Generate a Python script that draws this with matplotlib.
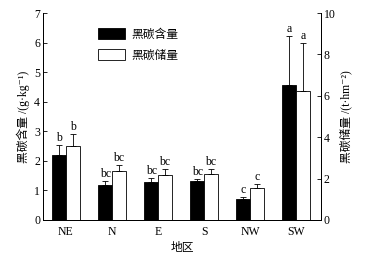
import matplotlib
matplotlib.use('Agg')
import matplotlib.pyplot as plt
import numpy as np

plt.rcParams['font.family'] = ['Liberation Serif', 'Noto Sans CJK SC', 'DejaVu Serif']

regions = ['NE', 'N', 'E', 'S', 'NW', 'SW']
content = [2.21, 1.17, 1.29, 1.31, 0.71, 4.56]
content_err = [0.34, 0.14, 0.13, 0.09, 0.08, 1.66]
content_lbl = ['b', 'bc', 'bc', 'bc', 'c', 'a']
storage = [3.56, 2.39, 2.19, 2.22, 1.53, 6.23]
storage_err = [0.60, 0.28, 0.27, 0.26, 0.21, 2.33]
storage_lbl = ['b', 'bc', 'bc', 'bc', 'c', 'a']

fig = plt.figure(figsize=(3.67, 2.57), dpi=100)
ax = fig.add_axes([0.117, 0.144, 0.758, 0.805])
ax2 = ax.twinx()

x = np.arange(len(regions))
w = 0.30
fs = 8.5

ax.bar(x - w / 2, content, w, color='black', edgecolor='black', linewidth=0.6,
       yerr=[np.zeros(len(x)), content_err], error_kw=dict(ecolor='black', elinewidth=0.6, capsize=2.5, capthick=0.6),
       label='黑碳含量')
ax2.bar(x + w / 2, storage, w, color='white', edgecolor='black', linewidth=0.6,
        yerr=[np.zeros(len(x)), storage_err], error_kw=dict(ecolor='black', elinewidth=0.6, capsize=2.5, capthick=0.6),
        label='黑碳储量')

for i in range(len(x)):
    ax.text(x[i] - w / 2, content[i] + content_err[i] + 0.03, content_lbl[i],
            ha='center', va='bottom', fontsize=fs)
    ax2.text(x[i] + w / 2, storage[i] + storage_err[i] + 0.05, storage_lbl[i],
             ha='center', va='bottom', fontsize=fs)

ax.set_xlim(-0.5, 5.54)
ax.set_ylim(0, 7)
ax2.set_ylim(0, 10)
ax.set_xticks(x)
ax.set_xticklabels(regions, fontsize=fs)
ax.set_yticks(range(0, 8))
ax2.set_yticks(range(0, 11, 2))
ax.tick_params(axis='y', direction='in', length=3, width=0.6, labelsize=fs, pad=2)
ax2.tick_params(axis='y', direction='in', length=3, width=0.6, labelsize=fs, pad=2)
ax.tick_params(axis='x', length=0, pad=4)

for a in (ax, ax2):
    a.spines['top'].set_visible(False)
    for s in ('left', 'right', 'bottom'):
        a.spines[s].set_linewidth(0.7)

ax.set_xlabel('地区', fontsize=fs, labelpad=3)
ax.set_ylabel('黑碳含量 /(g·kg⁻¹)', fontsize=fs, labelpad=3)
ax2.set_ylabel('黑碳储量 /(t·hm⁻²)', fontsize=fs, labelpad=3)

h1, l1 = ax.get_legend_handles_labels()
h2, l2 = ax2.get_legend_handles_labels()
ax.legend(h1 + h2, l1 + l2, loc='upper left', bbox_to_anchor=(0.16, 0.98), frameon=False,
          fontsize=fs, handlelength=2.3, handleheight=1.1, handletextpad=0.5, labelspacing=0.7)

fig.savefig('out.png', dpi=100)
